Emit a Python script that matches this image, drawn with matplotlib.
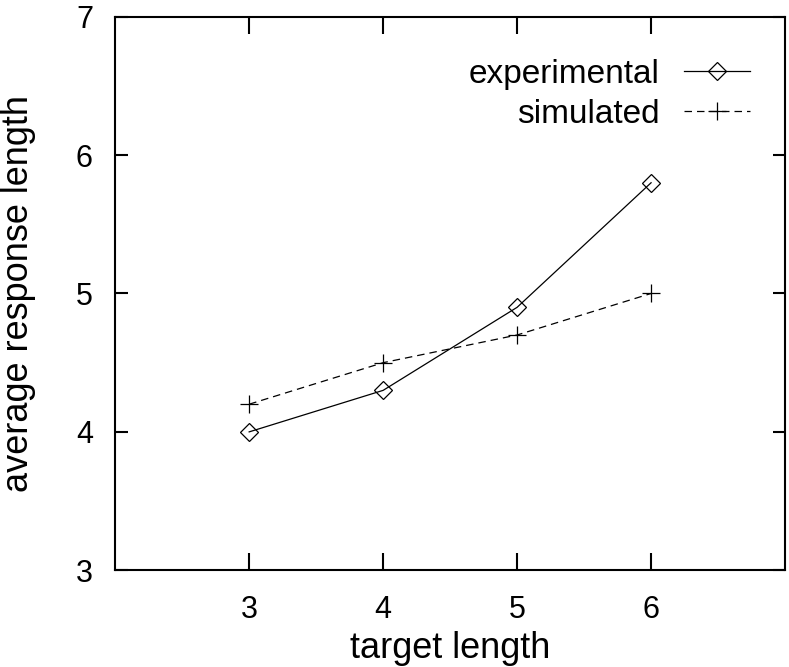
import matplotlib
matplotlib.use('Agg')
from matplotlib import pyplot as plt

plt.rcParams['font.family'] = ['Liberation Sans', 'DejaVu Sans']

target_x = [3, 4, 5, 6]

experimental_y = [4.0, 4.3, 4.9, 5.8]

simulated_y = [4.2, 4.5, 4.7, 5.0]

x_ticks = [3, 4, 5, 6]
y_ticks = [3, 4, 5, 6, 7]

fig = plt.figure(figsize=(7.89, 6.67), dpi=100)
ax = fig.add_axes([0.146, 0.145, 0.849, 0.830])

ax.plot(target_x, experimental_y, color='black', linewidth=0.9,
        marker='D', markersize=9, markerfacecolor='none',
        markeredgewidth=0.9, label='experimental')

ax.plot(target_x, simulated_y, color='black', linewidth=0.9,
        linestyle=(0, (6, 4)), marker='+', markersize=13,
        markeredgewidth=0.9, label='simulated')

ax.set_xlim(2, 7)
ax.set_ylim(3, 7)
ax.set_xticks(x_ticks)
ax.set_yticks(y_ticks)

for s in ax.spines.values():
    s.set_linewidth(1.5)

ax.tick_params(axis='x', direction='in', length=12, width=1.5,
               top=True, labelsize=22, pad=18)
ax.tick_params(axis='y', direction='in', length=9, width=1.5,
               right=True, labelsize=22, pad=16)

# axis titles are bigger than tick labels
ax.set_xlabel('target length', fontsize=26)
ax.xaxis.label.set_va('baseline')
ax.xaxis.set_label_coords(0.5, -0.159)
ax.set_ylabel('average response length', fontsize=26)
ax.yaxis.set_label_coords(-0.118, 0.5)

ax.legend(loc='upper right', bbox_to_anchor=(0.968, 0.948), frameon=False,
          fontsize=24, markerfirst=False, handlelength=2.0,
          handletextpad=0.72, labelspacing=0.27, borderaxespad=0)
# legend text is right-aligned like gnuplot
leg = ax.get_legend()
for t in leg.get_texts():
    t.set_ha('right')
leg._legend_box.align = 'right'

fig.savefig('out.png', dpi=100)
